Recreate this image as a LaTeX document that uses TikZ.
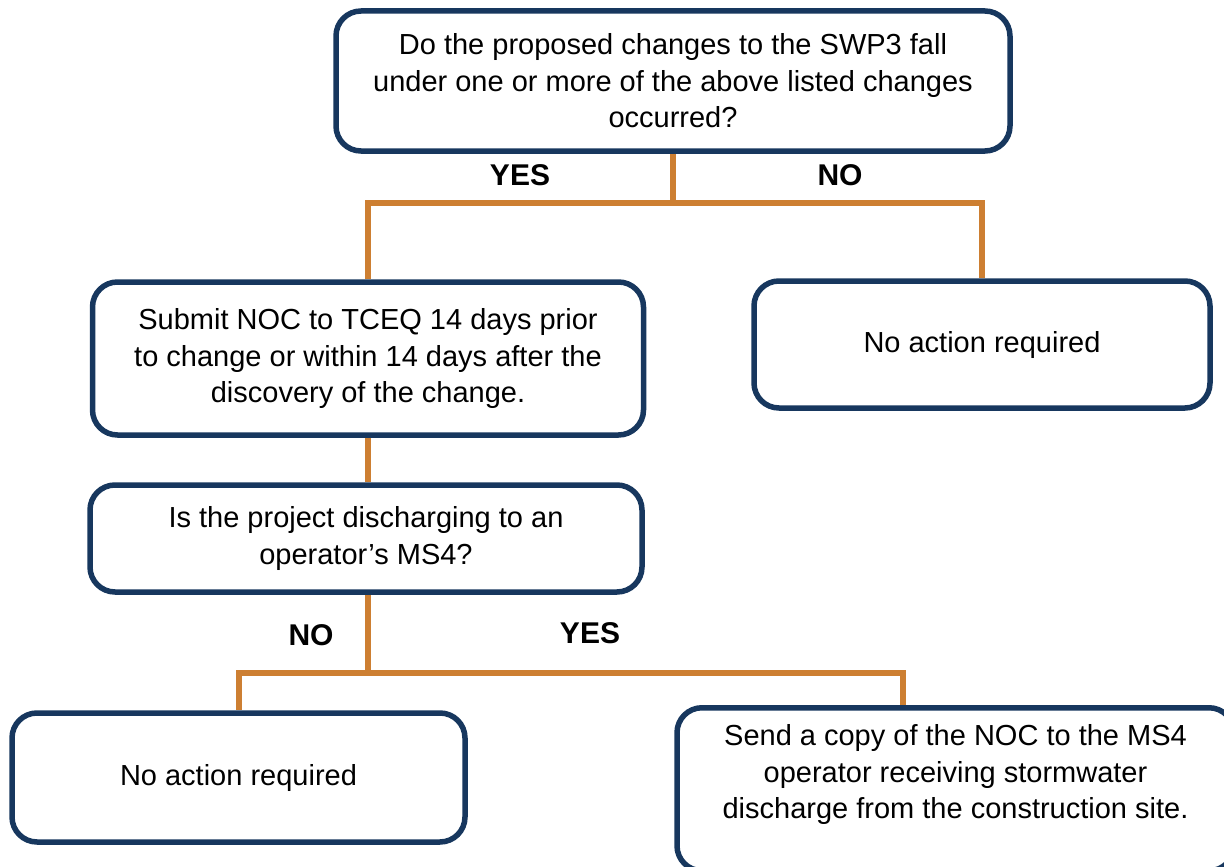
\documentclass[tikz,border=0pt]{standalone}
\usepackage{fontspec}
\setmainfont{Liberation Sans}
\usetikzlibrary{positioning, calc, backgrounds}
\definecolor{navy}{RGB}{23,55,94}
\definecolor{copper}{RGB}{205,127,50}
\begin{document}
\begin{tikzpicture}[
    x=1pt, y=-1pt,
    box/.style={draw=navy, line width=5.5pt, fill=white, rounded corners=25pt,
                align=center, inner sep=4pt, font=\fontsize{29}{36.5}\selectfont},
    link/.style={draw=copper, line width=6pt},
    ans/.style={font=\fontsize{30}{36}\selectfont\bfseries},
]
\useasboundingbox (0,0) rectangle (1224,867);
\clip (0,0) rectangle (1224,867);
\node[box, minimum width=674pt, minimum height=140pt] (q1) at (673,81)
    {Do the proposed changes to the SWP3 fall\\under one or more of the above listed changes\\occurred?};
\node[box, minimum width=551pt, minimum height=153pt] (submit) at (368,358.5)
    {Submit NOC to TCEQ 14 days prior\\to change or within 14 days after the\\discovery of the change.};
\node[box, minimum width=456pt, minimum height=127pt] (none1) at (982,344.5)
    {No action required};
\node[box, minimum width=552pt, minimum height=107pt] (q2) at (366,538.5)
    {Is the project discharging to an\\operator’s MS4?};
\node[box, minimum width=453pt, minimum height=129pt] (none2) at (238.5,777.5)
    {No action required};
\node[box, minimum width=557pt, minimum height=163pt, text depth=35pt,
      anchor=north] (send) at (955.5,705)
    {Send a copy of the NOC to the MS4\\operator receiving stormwater\\discharge from the construction site.};
\node[ans] (yes1) at (520,175) {YES};
\node[ans] (no1)  at (840,175) {NO};
\node[ans] (no2)  at (311,635) {NO};
\node[ans] (yes2) at (590,633) {YES};
\begin{scope}[on background layer]
  \draw[link] (q1.south) -- ++(0,49) -| (submit.north);
  \draw[link] (q1.south) ++(0,49) -| (none1.north);
  \draw[link] (submit.south) -- (submit.south |- q2.north);
  \draw[link] (submit.south |- q2.south) -- ++(0,78) -| (none2.north);
  \draw[link] (submit.south |- q2.south) ++(0,78) -| ($(send.north west)+(229,0)$);
\end{scope}
\end{tikzpicture}
\end{document}
